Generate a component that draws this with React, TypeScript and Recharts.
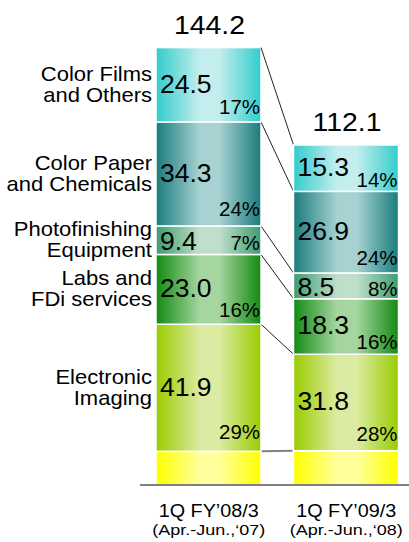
import { BarChart, Bar, XAxis, YAxis } from "recharts";

const CHART_W = 415;
const CHART_H = 542;
const AXIS_H = 57;
const MARGIN = { top: 30, right: 0, left: 140, bottom: 0 };
const STEP = (CHART_W - MARGIN.left - MARGIN.right) / 2;
const FONT = "'Liberation Sans', Arial, sans-serif";

// periods on the x axis
const periods = ["1Q FY\u201908/3", "1Q FY\u201909/3"];
const periodSpans = ["(Apr.-Jun.,\u201807)", "(Apr.-Jun.,\u201808)"];
const totals = [144.2, 112.1];

// segment values, bottom to top
const other = [11.1, 11.3];
const electronic = [41.9, 31.8];
const labs = [23.0, 18.3];
const photo = [9.4, 8.5];
const paper = [34.3, 26.9];
const films = [24.5, 15.3];

// share of total (%)
const electronicPct = [29, 28];
const labsPct = [16, 16];
const photoPct = [7, 8];
const paperPct = [24, 24];
const filmsPct = [17, 14];

const seriesKeys = ["other", "electronic", "labs", "photo", "paper", "films"];
const seriesValues = [other, electronic, labs, photo, paper, films];
const seriesPct: (number[] | null)[] = [null, electronicPct, labsPct, photoPct, paperPct, filmsPct];
const seriesNames: (string[] | null)[] = [
  null,
  ["Electronic", "Imaging"],
  ["Labs and", "FDi services"],
  ["Photofinishing", "Equipment"],
  ["Color Paper", "and Chemicals"],
  ["Color Films", "and Others"],
];
// [edge, highlight]
const seriesColors = [
  ["#FFFF00", "#FFFF9C"],
  ["#99CC00", "#DCEBA2"],
  ["#128A12", "#A6D6A0"],
  ["#3E9C70", "#BFDFCB"],
  ["#1A7C7C", "#A8D2D2"],
  ["#33CCCC", "#C4EEEE"],
];

const chartData = periods.map((p, i) => {
  const row: any = { name: p, span: periodSpans[i] };
  seriesKeys.forEach((k, s) => (row[k] = seriesValues[s][i]));
  return row;
});

const cumBelow = (row: number, s: number) =>
  seriesValues.slice(0, s).reduce((a, v) => a + v[row], 0);

// the source artwork is a little wider than the font, stretch text around its anchor
const stretch = (ax: number, f: number) => `translate(${ax},0) scale(${f},1) translate(${-ax},0)`;

const makeShape = (s: number) => (props: any) => {
  const { x, y, width, height, index } = props;
  const value = seriesValues[s][index];
  const k = height / value;
  const mid = y + height / 2;
  const bottom = y + height;
  const small = height < 35;
  const pct = seriesPct[s];
  const names = seriesNames[s];

  let connector = null;
  if (index === 0) {
    const base = y + height + cumBelow(0, s) * k;
    const y2 = base - (cumBelow(1, s) + seriesValues[s][1]) * k;
    const isBase = s === 0;
    connector = (
      <line
        x1={x + width}
        y1={y}
        x2={x + STEP}
        y2={y2}
        stroke={isBase ? "#808080" : "#222"}
        strokeWidth={isBase ? 2 : 1}
      />
    );
  }

  const vx = x + 4;
  const px = x + width - 1;
  const lx = x - 4;
  const tx = x + width / 2 + 1;

  return (
    <g>
      <rect x={x} y={y} width={width} height={height} fill={`url(#grad-${s})`} stroke="#fff" strokeWidth={1.5} />
      {connector}
      {pct && (
        <>
          <text x={vx} y={small ? mid + 10 : mid + 8} fontSize={25.5} fontFamily={FONT} fill="#000" transform={stretch(vx, 1.04)}>
            {value.toFixed(1)}
          </text>
          <text
            x={px}
            y={small ? mid + 10 : bottom - Math.max(2, height * 0.1)}
            fontSize={19.5}
            fontFamily={FONT}
            textAnchor="end"
            fill="#000"
            transform={stretch(px, 1.05)}
          >
            {pct[index]}%
          </text>
        </>
      )}
      {names && index === 0 && (
        <text x={lx} y={mid - 4} fontSize={20} fontFamily={FONT} textAnchor="end" fill="#000" transform={stretch(lx, 1.1)}>
          <tspan x={lx}>{names[0]}</tspan>
          <tspan x={lx} dy={21}>{names[1]}</tspan>
        </text>
      )}
      {s === seriesKeys.length - 1 && (
        <text x={tx} y={y - 14} fontSize={26.5} fontFamily={FONT} textAnchor="middle" fill="#000" transform={stretch(tx, 1.07)}>
          {totals[index].toFixed(1)}
        </text>
      )}
    </g>
  );
};

const PeriodTick = ({ x, y, payload, index }: any) => (
  <g>
    <text x={x} y={y + 24} fontSize={17.5} fontFamily={FONT} textAnchor="middle" fill="#000" transform={stretch(x, 1.13)}>
      {payload.value}
    </text>
    <text x={x} y={y + 42} fontSize={15.5} fontFamily={FONT} textAnchor="middle" fill="#000" transform={stretch(x, 1.16)}>
      {periodSpans[index]}
    </text>
  </g>
);

export default function App() {
  return (
    <div style={{ position: "absolute", left: 0, top: 0, width: 409, height: 542, overflow: "hidden", background: "#fff" }}>
      <BarChart width={CHART_W} height={CHART_H} data={chartData} margin={MARGIN} barSize={105}>
        <defs>
          {seriesColors.map((c, s) => (
            <linearGradient key={s} id={`grad-${s}`} x1="0" y1="0" x2="1" y2="0">
              <stop offset="0%" stopColor={c[0]} />
              <stop offset="42%" stopColor={c[1]} />
              <stop offset="60%" stopColor={c[1]} />
              <stop offset="100%" stopColor={c[0]} />
            </linearGradient>
          ))}
        </defs>
        <XAxis
          dataKey="name"
          axisLine={{ stroke: "#808080", strokeWidth: 2 }}
          tickLine={false}
          tick={<PeriodTick />}
          interval={0}
          height={AXIS_H}
        />
        <YAxis hide domain={[0, 150]} />
        {seriesKeys.map((key, s) => (
          <Bar
            key={key}
            dataKey={key}
            stackId="a"
            isAnimationActive={false}
            shape={makeShape(s)}
          />
        ))}
      </BarChart>
    </div>
  );
}
